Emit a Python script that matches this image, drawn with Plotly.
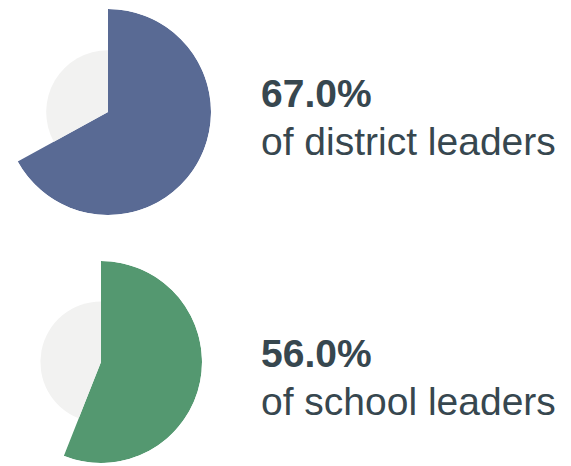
import plotly.graph_objects as go

# Data
values = [67.0, 56.0]
labels = ["of district leaders", "of school leaders"]
colors = ["#596A94", "#549870"]
rest_color = "#F2F2F1"
text_color = "#37474F"

W, H = 571, 466
# pie centers and radii (px) -- layout only
centers = [(108, 112), (101, 362)]
radii = [103, 101]
inner_ratio = 0.6

fig = go.Figure()
for i, v in enumerate(values):
    deg = v * 3.6
    rest = 360 - deg
    pid = "polar" if i == 0 else "polar%d" % (i + 1)
    fig.add_trace(go.Barpolar(
        r=[1, inner_ratio],
        theta=[deg / 2, deg + rest / 2],
        width=[deg, rest],
        marker=dict(color=[colors[i], rest_color], line=dict(width=0)),
        hoverinfo="skip",
        subplot=pid,
        showlegend=False,
    ))
    cx, cy = centers[i]
    r = radii[i]
    fig.layout[pid] = dict(
        domain=dict(x=[max(0, (cx - r) / W), (cx + r) / W],
                    y=[1 - (cy + r) / H, 1 - (cy - r) / H]),
        bgcolor="rgba(0,0,0,0)",
        bargap=0,
        radialaxis=dict(visible=False, range=[0, 1]),
        angularaxis=dict(visible=False, rotation=90, direction="clockwise"),
    )

text_tops = [93, 353]
for i, v in enumerate(values):
    fig.add_annotation(
        text="<b>%.1f%%</b>" % v, x=259 / W, y=1 - text_tops[i] / H,
        xref="paper", yref="paper", xanchor="left", yanchor="middle",
        showarrow=False, font=dict(family="Liberation Sans, Arial", size=39, color=text_color),
    )
    fig.add_annotation(
        text=labels[i], x=259 / W, y=1 - (text_tops[i] + 48) / H,
        xref="paper", yref="paper", xanchor="left", yanchor="middle",
        showarrow=False, font=dict(family="Liberation Sans, Arial", size=39, color=text_color),
    )

fig.update_layout(
    width=W, height=H, margin=dict(l=0, r=0, t=0, b=0),
    paper_bgcolor="white", plot_bgcolor="white",
)
fig.write_html("out.html")
